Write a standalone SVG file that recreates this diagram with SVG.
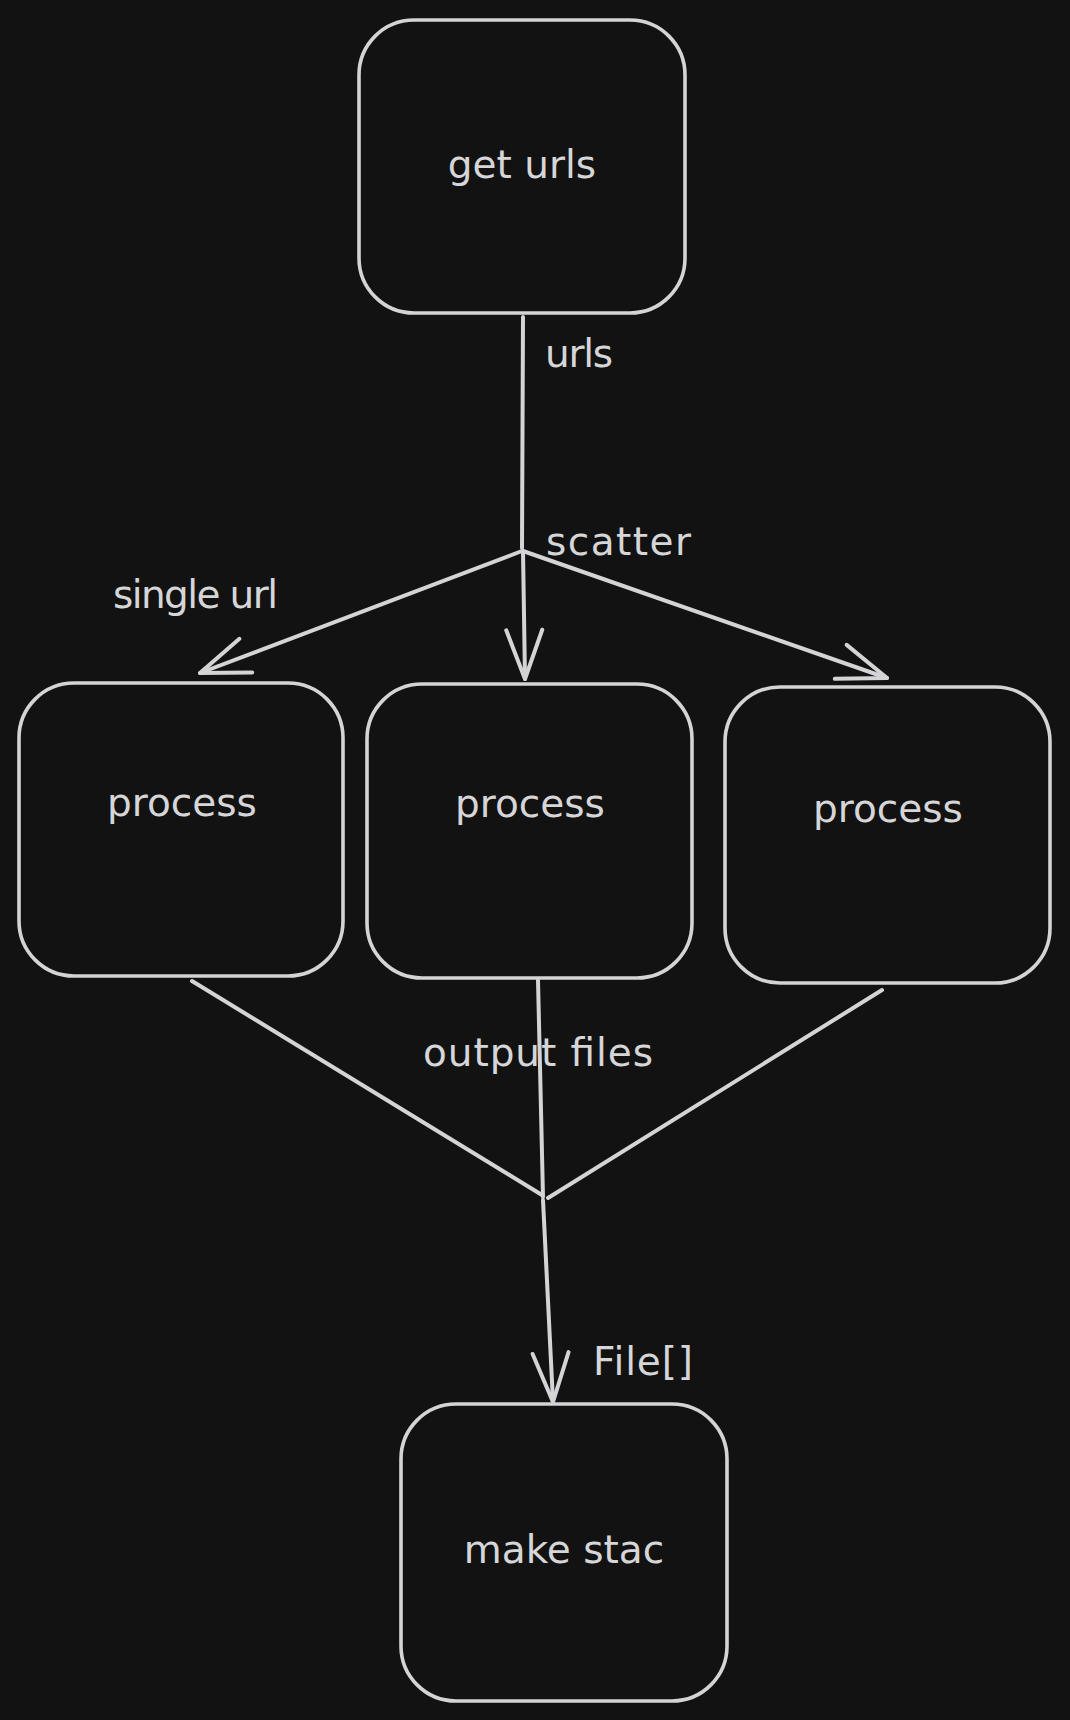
<svg xmlns="http://www.w3.org/2000/svg" width="1070" height="1720" viewBox="0 0 1070 1720">
<style>
.box{fill:#121212;stroke:#d4d4d6;stroke-width:3.6}
.lbl{font-family:"DejaVu Sans",sans-serif;font-size:39px;fill:#d6d6d8}
.mid{text-anchor:middle}
.ln{fill:none;stroke:#d4d4d6;stroke-width:4;stroke-linecap:round}
</style>
<defs>
<marker id="ah" markerUnits="userSpaceOnUse" markerWidth="120" markerHeight="120" refX="0" refY="0" orient="auto" overflow="visible">
<path d="M -49,-18 L 0,0 L -49,18" fill="none" stroke="#d4d4d6" stroke-width="4" stroke-linecap="round" stroke-linejoin="round"/>
</marker>
</defs>
<rect width="1070" height="1720" fill="#121212"/>
<g id="connectors">
<path class="ln" d="M 523,317 L 522,548"/>
<path class="ln" d="M 522,551 L 200,673" marker-end="url(#ah)"/>
<path class="ln" d="M 523,551 L 525,679" marker-end="url(#ah)"/>
<path class="ln" d="M 523,551 L 887,678" marker-end="url(#ah)"/>
<path class="ln" d="M 192,981 L 542,1195"/>
<path class="ln" d="M 538,980 L 543,1197"/>
<path class="ln" d="M 882,990 L 548,1198"/>
<path class="ln" d="M 543,1200 L 553,1402" marker-end="url(#ah)"/>
<text class="lbl" x="545" y="367" textLength="68">urls</text>
<text class="lbl" x="546" y="555" textLength="145">scatter</text>
<text class="lbl" x="113" y="608" font-size="37" textLength="165">single url</text>
<text class="lbl" x="423" y="1066" textLength="230">output files</text>
<text class="lbl" x="593" y="1375" textLength="100">File[]</text>
</g>
<g id="get-urls">
<rect class="box" x="359" y="20" width="326" height="293" rx="55"/>
<text class="lbl mid" x="522" y="178">get urls</text>
</g>
<g id="process-1">
<rect class="box" x="19" y="683" width="324" height="293" rx="55"/>
<text class="lbl mid" x="182" y="816">process</text>
</g>
<g id="process-2">
<rect class="box" x="367" y="684" width="325" height="294" rx="55"/>
<text class="lbl mid" x="530" y="817">process</text>
</g>
<g id="process-3">
<rect class="box" x="725" y="687" width="325" height="296" rx="55"/>
<text class="lbl mid" x="888" y="822">process</text>
</g>
<g id="make-stac">
<rect class="box" x="401" y="1404" width="326" height="297" rx="55"/>
<text class="lbl mid" x="564" y="1563">make stac</text>
</g>
</svg>
